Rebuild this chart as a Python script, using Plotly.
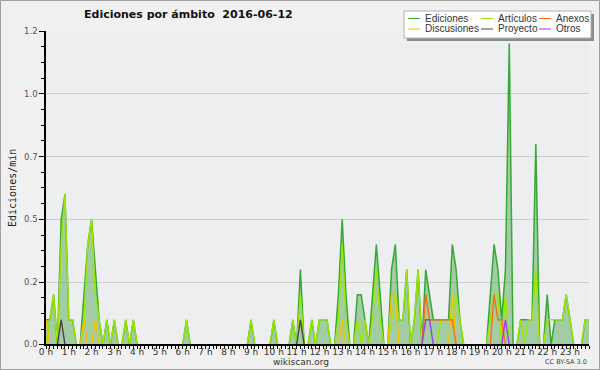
import plotly.graph_objects as go

# ---- data: edits per minute, 10-minute bins (6 per hour) ----
hour_labels = [f"{h} h" for h in range(24)]

ediciones = [
    0.1, 0.1, 0.2, 0, 0.5, 0.6,      # 0h
    0.1, 0.1, 0, 0, 0.2, 0.4,        # 1h
    0.5, 0.3, 0.1, 0, 0.1, 0,        # 2h
    0.1, 0, 0, 0.1, 0, 0.1,          # 3h
    0, 0, 0, 0, 0, 0,                # 4h
    0, 0, 0, 0, 0, 0,                # 5h
    0, 0.1, 0, 0, 0, 0,              # 6h
    0, 0, 0, 0, 0, 0,                # 7h
    0, 0, 0, 0, 0, 0,                # 8h
    0.1, 0, 0, 0, 0, 0,              # 9h
    0.1, 0, 0, 0, 0, 0.1,            # 10h
    0, 0.3, 0, 0, 0.1, 0,            # 11h
    0.1, 0.1, 0.1, 0, 0, 0.2,        # 12h
    0.5, 0.2, 0, 0, 0.2, 0.2,        # 13h
    0.1, 0, 0.2, 0.4, 0.2, 0,        # 14h
    0, 0.3, 0.4, 0.1, 0.1, 0.3,      # 15h
    0, 0.1, 0.3, 0, 0.3, 0.2,        # 16h
    0.1, 0.1, 0.1, 0.1, 0.1, 0.4,    # 17h
    0.3, 0.1, 0, 0, 0, 0,            # 18h
    0, 0, 0, 0.2, 0.4, 0.3,          # 19h
    0.1, 0.3, 1.2, 0, 0, 0.1,        # 20h
    0.1, 0.1, 0.1, 0.8, 0, 0,        # 21h
    0.2, 0, 0.1, 0.1, 0.1, 0.2,      # 22h
    0.1, 0, 0, 0, 0.1, 0.1,          # 23h
]

articulos = [
    0, 0.1, 0.2, 0, 0.4, 0.6,
    0.1, 0.1, 0, 0, 0.1, 0.4,
    0.5, 0.2, 0.1, 0, 0.1, 0,
    0.1, 0, 0, 0.1, 0, 0.1,
    0, 0, 0, 0, 0, 0,
    0, 0, 0, 0, 0, 0,
    0, 0.1, 0, 0, 0, 0,
    0, 0, 0, 0, 0, 0,
    0, 0, 0, 0, 0, 0,
    0.1, 0, 0, 0, 0, 0,
    0.1, 0, 0, 0, 0, 0.1,
    0, 0.2, 0, 0, 0.1, 0,
    0.1, 0.1, 0.1, 0, 0, 0.1,
    0.4, 0.1, 0, 0, 0.1, 0,
    0.1, 0, 0.1, 0.3, 0.1, 0,
    0, 0.1, 0.2, 0.1, 0.1, 0.3,
    0, 0.1, 0.3, 0, 0.1, 0.1,
    0, 0, 0.1, 0.1, 0.1, 0.1,
    0.2, 0.1, 0, 0, 0, 0,
    0, 0, 0, 0.1, 0.2, 0.2,
    0, 0.2, 0, 0, 0, 0.1,
    0, 0.1, 0.1, 0.3, 0, 0,
    0.1, 0.1, 0.1, 0.1, 0.1, 0.2,
    0.1, 0, 0, 0, 0.1, 0.1,
]

discusiones = [0.0] * 144
for i, v in [(0, 0.1), (10, 0.1), (13, 0.1), (78, 0.1), (91, 0.2), (92, 0.2), (107, 0.2)]:
    discusiones[i] = v

anexos = [0.0] * 144
for i, v in [(100, 0.2), (101, 0.1), (102, 0.1), (103, 0.1), (104, 0.1), (105, 0.1),
             (106, 0.1), (107, 0.1), (118, 0.2), (119, 0.1), (120, 0.1)]:
    anexos[i] = v

proyecto = [0.0] * 144
for i, v in [(4, 0.1), (67, 0.1)]:
    proyecto[i] = v

otros = [0.0] * 144
for i, v in [(100, 0.1), (101, 0.1), (121, 0.1)]:
    otros[i] = v

hours = [i / 6 for i in range(144)]

series = [
    ("Ediciones", ediciones, "#35a835"),
    ("Artículos", articulos, "#9ee600"),
    ("Discusiones", discusiones, "#f2c200"),
    ("Proyecto", proyecto, "#4a4040"),
    ("Anexos", anexos, "#ff6a1a"),
    ("Otros", otros, "#9a3cff"),
]

fig = go.Figure()
for name, vals, col in series:
    if name == "Ediciones":
        fig.add_trace(go.Scatter(x=hours, y=vals, mode="lines", name=name,
                                 line=dict(color=col, width=1.5),
                                 fill="tozeroy", fillcolor="rgba(60,160,60,0.42)"))
    else:
        fig.add_trace(go.Scatter(x=hours, y=vals, mode="lines", name=name,
                                 line=dict(color=col, width=1.4)))

# ---- layout geometry (pixels) ----
W, H = 600, 370
L, R, T, B = 46, 589, 31, 344
PW, PH = R - L, B - T
Y0 = 0.0035  # bottom of the value axis, just above zero so zero-level lines sit under the axis line


def px(x):
    return (x - L) / PW


def py(y):
    return (B - y) / PH


annotations = [
    dict(text="<b>Ediciones por ámbito\u00a0\u00a02016-06-12</b>", x=px(188), y=py(14),
         xref="paper", yref="paper", showarrow=False, xanchor="center", yanchor="middle",
         font=dict(family="DejaVu Sans", size=11, color="#111")),
    dict(text="wikiscan.org", x=px(301), y=py(362), xref="paper", yref="paper",
         showarrow=False, xanchor="center", yanchor="middle",
         font=dict(family="DejaVu Sans", size=9, color="#333")),
    dict(text="CC BY-SA 3.0", x=px(589), y=py(362), xref="paper", yref="paper",
         showarrow=False, xanchor="right", yanchor="middle",
         font=dict(family="DejaVu Sans", size=6.5, color="#444")),
    dict(text="Ediciones/min", x=px(12), y=py(188), xref="paper", yref="paper",
         showarrow=False, xanchor="center", yanchor="middle", textangle=-90,
         font=dict(family="DejaVu Sans Mono", size=10, color="#222")),
]

shapes = [
    # outer frame
    dict(type="rect", xref="paper", yref="paper", x0=px(0.5), x1=px(599.5), y0=py(369.5), y1=py(0.5),
         line=dict(color="#a0a0a0", width=1), fillcolor="rgba(0,0,0,0)", layer="below"),
    # legend shadow and box
    dict(type="rect", xref="paper", yref="paper", x0=px(407), x1=px(594), y0=py(41), y1=py(14),
         line=dict(width=0), fillcolor="#8c8c8c"),
    dict(type="rect", xref="paper", yref="paper", x0=px(404), x1=px(591), y0=py(38), y1=py(11),
         line=dict(color="#b0b0b0", width=1), fillcolor="#ffffff"),
]

legend_items = [
    ("Ediciones", "#35a835", 408, 18.5), ("Artículos", "#9ee600", 481, 18.5), ("Anexos", "#ff6a1a", 539, 18.5),
    ("Discusiones", "#f2c200", 408, 29), ("Proyecto", "#4a4040", 481, 29), ("Otros", "#9a3cff", 539, 29),
]
for name, col, x0, yc in legend_items:
    shapes.append(dict(type="line", xref="paper", yref="paper", x0=px(x0), x1=px(x0 + 12),
                       y0=py(yc), y1=py(yc), line=dict(color=col, width=1)))
    annotations.append(dict(text=name, x=px(x0 + 15), y=py(yc), xref="paper", yref="paper",
                            showarrow=False, xanchor="left", yanchor="middle",
                            font=dict(family="Liberation Sans", size=10, color="#333")))

fig.update_layout(
    width=W, height=H, autosize=False,
    margin=dict(l=L, r=W - R, t=T, b=H - B, pad=0, autoexpand=False),
    paper_bgcolor="#f1f1f1", plot_bgcolor="#edeef0",
    showlegend=False,
    annotations=annotations, shapes=shapes,
)

fig.update_xaxes(
    range=[0, 143 / 6], tickmode="array", tickvals=list(range(24)), ticktext=hour_labels,
    tickangle=0, ticks="outside", ticklen=3, tickcolor="#000", tickwidth=1,
    minor=dict(tick0=0, dtick=1 / 6, ticks="outside", ticklen=3, tickcolor="#000", showgrid=False),
    showgrid=False, zeroline=False, showline=True, linecolor="#000", linewidth=1.5,
    tickfont=dict(family="DejaVu Sans", size=9, color="#333"), fixedrange=True,
    automargin=False, ticklabelstandoff=-5,
)
fig.update_yaxes(
    range=[Y0, 1.25], tickmode="array", tickvals=[Y0, 0.25, 0.5, 0.75, 1.0, 1.25],
    ticktext=["0.0", "0.2", "0.5", "0.7", "1.0", "1.2"],
    ticks="outside", ticklen=5, tickcolor="#000",
    minor=dict(tick0=0, dtick=0.0625, ticks="outside", ticklen=3, tickcolor="#000", showgrid=False),
    showgrid=True, gridcolor="#cdcdcd", gridwidth=1, zeroline=False,
    showline=True, linecolor="#000", linewidth=1.5,
    tickfont=dict(family="DejaVu Sans", size=8.5, color="#555"), fixedrange=True,
    automargin=False,
)

fig.write_html("out.html", config={"displayModeBar": False},
               post_script="document.body.style.margin='0';document.body.style.padding='0';")
